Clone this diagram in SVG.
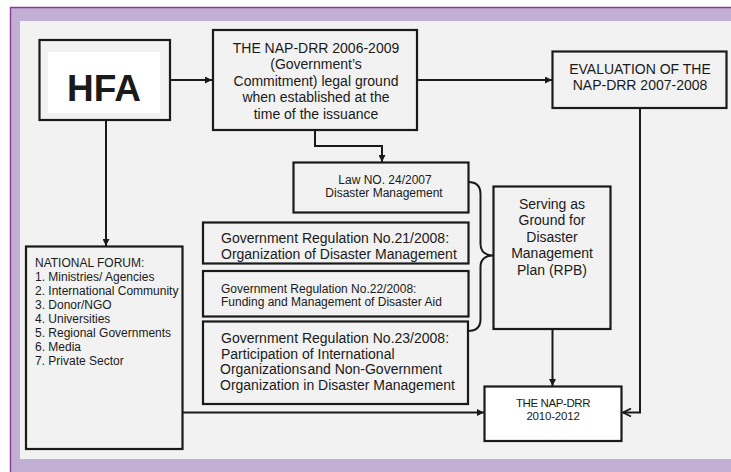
<svg xmlns="http://www.w3.org/2000/svg" width="731" height="472" viewBox="0 0 731 472">
  <defs>
    <marker id="tri" viewBox="0 0 10 10" refX="10" refY="5" markerWidth="7" markerHeight="7" markerUnits="userSpaceOnUse" orient="auto">
      <path d="M0,0 L10,5 L0,10 z" fill="#1a1a1a"/>
    </marker>
    <marker id="open" viewBox="0 0 10 10" refX="9" refY="5" markerWidth="10" markerHeight="10" markerUnits="userSpaceOnUse" orient="auto">
      <path d="M1,1 L9,5 L1,9" fill="none" stroke="#1a1a1a" stroke-width="1.8"/>
    </marker>
  </defs>
  <style>
    .box { fill: #f2f2f2; stroke: #1a1a1a; stroke-width: 2.2; }
    .white { fill: #ffffff; stroke: #1a1a1a; stroke-width: 2.2; }
    .t { font-family: "Liberation Sans", Arial, sans-serif; fill: #1a1a1a; }
    .c { text-anchor: middle; }
    .f14 { font-size: 14px; }
    .f12 { font-size: 12px; }
    .link { fill: none; stroke: #1a1a1a; stroke-width: 2; }
  </style>

  <!-- page frame -->
  <rect x="0" y="0" width="731" height="472" fill="#ffffff"/>
  <rect x="10" y="7" width="721" height="465" fill="#c1b0d4"/>
  <path d="M10.5,472 L10.5,7.5 L731,7.5" fill="none" stroke="#8b3a8f" stroke-width="1.4"/>
  <rect x="20" y="21" width="711" height="438" fill="#f2f2f2"/>

  <!-- connectors -->
  <g id="connectors">
    <line class="link" x1="170" y1="80" x2="212" y2="80" marker-end="url(#tri)"/>
    <line class="link" x1="417" y1="80" x2="552" y2="80" marker-end="url(#tri)"/>
    <polyline class="link" points="315,130 315,146 382,146 382,162" marker-end="url(#tri)"/>
    <line class="link" x1="106" y1="120" x2="106" y2="246" marker-end="url(#tri)"/>
    <line class="link" x1="183" y1="412.5" x2="484" y2="412.5" marker-end="url(#tri)"/>
    <line class="link" x1="552.5" y1="329" x2="552.5" y2="386" marker-end="url(#tri)"/>
    <polyline class="link" points="640,108 640,412.5 623,412.5" marker-end="url(#open)"/>
    <path class="link" d="M468,182 Q480.5,182 480.5,194 L480.5,244 Q480.5,255 493,255.5 Q480.5,256 480.5,267 L480.5,319 Q480.5,331 468,331"/>
  </g>

  <g id="hfa">
    <rect class="box" x="39.5" y="40" width="130.5" height="80"/>
    <rect x="48" y="52" width="112" height="61" fill="#ffffff"/>
    <text class="t c" x="104" y="101" font-size="37" font-weight="bold" font-family="'Open Sans', 'Liberation Sans', sans-serif">HFA</text>
  </g>

  <g id="nap-2006">
    <rect class="box" x="213" y="30" width="204" height="100"/>
    <text class="t c f14" x="316" y="52.5">THE NAP-DRR 2006-2009</text>
    <text class="t c f14" x="316" y="69">(Government’s</text>
    <text class="t c f14" x="316" y="85.5">Commitment) legal ground</text>
    <text class="t c f14" x="316" y="102">when established at the</text>
    <text class="t c f14" x="316" y="118.5">time of the issuance</text>
  </g>

  <g id="evaluation">
    <rect class="box" x="552.5" y="51.5" width="174" height="56.5"/>
    <text class="t c f14" x="640" y="74">EVALUATION OF THE</text>
    <text class="t c f14" x="640" y="89.5">NAP-DRR 2007-2008</text>
  </g>

  <g id="law">
    <rect class="box" x="293.5" y="162.5" width="175" height="50"/>
    <text class="t c f12" x="385" y="183.5">Law NO. 24/2007</text>
    <text class="t c f12" x="384" y="197">Disaster Management</text>
  </g>

  <g id="reg-21">
    <rect class="box" x="203" y="222.5" width="265.5" height="41"/>
    <text class="t f14" x="221" y="242.5">Government Regulation No.21/2008:</text>
    <text class="t f14" x="221" y="258.5">Organization of Disaster Management</text>
  </g>

  <g id="reg-22">
    <rect class="box" x="203" y="271" width="265.5" height="45.5"/>
    <text class="t f12" x="221" y="292.5">Government Regulation No.22/2008:</text>
    <text class="t f12" x="221" y="306">Funding and Management of Disaster Aid</text>
  </g>

  <g id="reg-23">
    <rect class="box" x="203" y="321.5" width="265" height="82.5"/>
    <text class="t f14" x="221" y="342.5">Government Regulation No.23/2008:</text>
    <text class="t f14" x="221" y="358.5">Participation of International</text>
    <text class="t f14" x="220" y="374">Organizations<tspan dx="1">and Non-Government</tspan></text>
    <text class="t f14" x="220" y="390">Organization in Disaster Management</text>
  </g>

  <g id="serving">
    <rect class="box" x="493.5" y="186.5" width="117" height="142.5"/>
    <text class="t c f14" x="552" y="208.5">Serving as</text>
    <text class="t c f14" x="552" y="225">Ground for</text>
    <text class="t c f14" x="552" y="241.5">Disaster</text>
    <text class="t c f14" x="552" y="258">Management</text>
    <text class="t c f14" x="552" y="274.5">Plan (RPB)</text>
  </g>

  <g id="national-forum">
    <rect class="box" x="26" y="246.5" width="156.5" height="202.5"/>
    <text class="t f12" x="35" y="266.5">NATIONAL FORUM:</text>
    <text class="t f12" x="35" y="280.5">1. Ministries/ Agencies</text>
    <text class="t f12" x="35" y="294.5">2. International Community</text>
    <text class="t f12" x="35" y="308.5">3. Donor/NGO</text>
    <text class="t f12" x="35" y="322.5">4. Universities</text>
    <text class="t f12" x="35" y="336.5">5. Regional Governments</text>
    <text class="t f12" x="35" y="350.5">6. Media</text>
    <text class="t f12" x="35" y="364.5">7. Private Sector</text>
  </g>

  <g id="nap-2010">
    <rect class="white" x="484.5" y="386.5" width="137" height="54.5"/>
    <text class="t c" x="553" y="407" font-size="11.5" letter-spacing="-0.4">THE NAP-DRR</text>
    <text class="t c" x="553" y="420" font-size="11.5" letter-spacing="-0.2">2010-2012</text>
  </g>
</svg>
